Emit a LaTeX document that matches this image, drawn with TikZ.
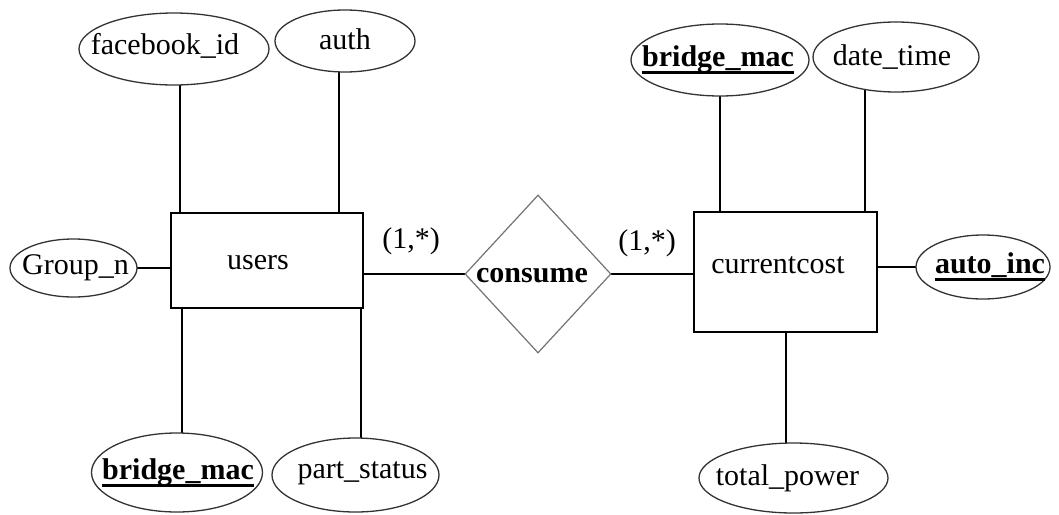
\documentclass[tikz,border=0pt]{standalone}
\usepackage{fontspec}
\setmainfont{Liberation Serif}
\usetikzlibrary{shapes.geometric,backgrounds}

% primary-key attribute: bold text with a heavy rule underneath
\newlength\pkwidth
\newcommand\pkey[1]{\settowidth\pkwidth{\textbf{#1}}\textbf{#1}\llap{\rule[-0.25em]{\pkwidth}{0.1em}}}

\begin{document}
\begin{tikzpicture}[x=1pt,y=-1pt,
  every label/.style={font=\fontsize{30}{32}\selectfont, inner sep=0pt},
  attr/.style={ellipse, draw=black!80, line width=1.3pt, fill=white, inner sep=0pt},
  entity/.style={rectangle, draw=black, line width=1.4pt, fill=white, inner sep=0pt},
  rel/.style={diamond, draw=black!55, line width=1.2pt, fill=white, inner sep=0pt},
  card/.style={font=\fontsize{30}{32}\selectfont, inner sep=0pt},
  link/.style={draw=black, line width=1.4pt}]
\useasboundingbox (0,0) rectangle (1059,514);

% entities
\node[entity, minimum width=192, minimum height=95,
      label={[xshift=-9pt,yshift=-2pt]center:users}] (users) at (267,260.5) {};
\node[entity, minimum width=183, minimum height=120,
      label={[xshift=-7.5pt,yshift=7pt]center:currentcost}] (cc) at (785.5,272) {};

% relationship
\node[rel, minimum width=146, minimum height=158,
      label={[xshift=-6pt,yshift=-2pt]center:\textbf{consume}}] (consume) at (538,274) {};

% attributes of users
\node[attr, minimum width=190, minimum height=72,
      label={[xshift=-9pt,yshift=3pt]center:facebook\_id}] (fb) at (174,49) {};
\node[attr, minimum width=140, minimum height=62,
      label={[yshift=2pt]center:auth}] (auth) at (345,41) {};
\node[attr, minimum width=127, minimum height=58,
      label={[xshift=2pt]center:Group\_n}] (gn) at (73.5,268) {};
\node[attr, minimum width=171, minimum height=79,
      label={[xshift=1pt]center:\pkey{bridge\_mac}}] (ubm) at (177,472.5) {};
\node[attr, minimum width=167, minimum height=74,
      label={[xshift=7pt,yshift=2pt]center:part\_status}] (ps) at (355.5,475) {};

% attributes of currentcost
\node[attr, minimum width=178, minimum height=72,
      label={[xshift=-2pt]center:\pkey{bridge\_mac}}] (cbm) at (720,60) {};
\node[attr, minimum width=166, minimum height=70,
      label={[xshift=-4pt]center:date\_time}] (dt) at (896,57) {};
\node[attr, minimum width=134, minimum height=64,
      label={[xshift=7pt]center:\pkey{auto\_inc}}] (ai) at (983,267) {};
\node[attr, minimum width=189, minimum height=70,
      label={[xshift=-6pt]center:total\_power}] (tp) at (793.5,478) {};

% cardinalities
\node[card] (cardL) at (411,241) {(1,*)};
\node[card] (cardR) at (647,243) {(1,*)};

% attachment points of the vertical links
\path (fb.center)   ++(6,0)    coordinate (fbL);
\path (auth.center) ++(-6,0)   coordinate (authL);
\path (ubm.center)  ++(5,0)    coordinate (ubmL);
\path (ps.center)   ++(5.5,0)  coordinate (psL);
\path (cbm.center)  ++(0,0)    coordinate (cbmL);
\path (dt.center)   ++(-31,0)  coordinate (dtL);
\path (tp.center)   ++(-7.5,0) coordinate (tpL);

\begin{scope}[on background layer]
  \draw[link] (fbL)   -- (fbL   |- users.north);
  \draw[link] (authL) -- (authL |- users.north);
  \draw[link] (ubmL)  -- (ubmL  |- users.south);
  \draw[link] (psL)   -- (psL   |- users.south);
  \draw[link] (gn.center) -- (gn.center -| users.west);
  \draw[link] (consume.center) -- (consume.center -| users.east);
  \draw[link] (consume.center) -- (consume.center -| cc.west);
  \draw[link] (cbmL)  -- (cbmL |- cc.north);
  \draw[link] (dtL)   -- (dtL  |- cc.north);
  \draw[link] (tpL)   -- (tpL  |- cc.south);
  \draw[link] (ai.center) -- (ai.center -| cc.east);
\end{scope}
\end{tikzpicture}
\end{document}
